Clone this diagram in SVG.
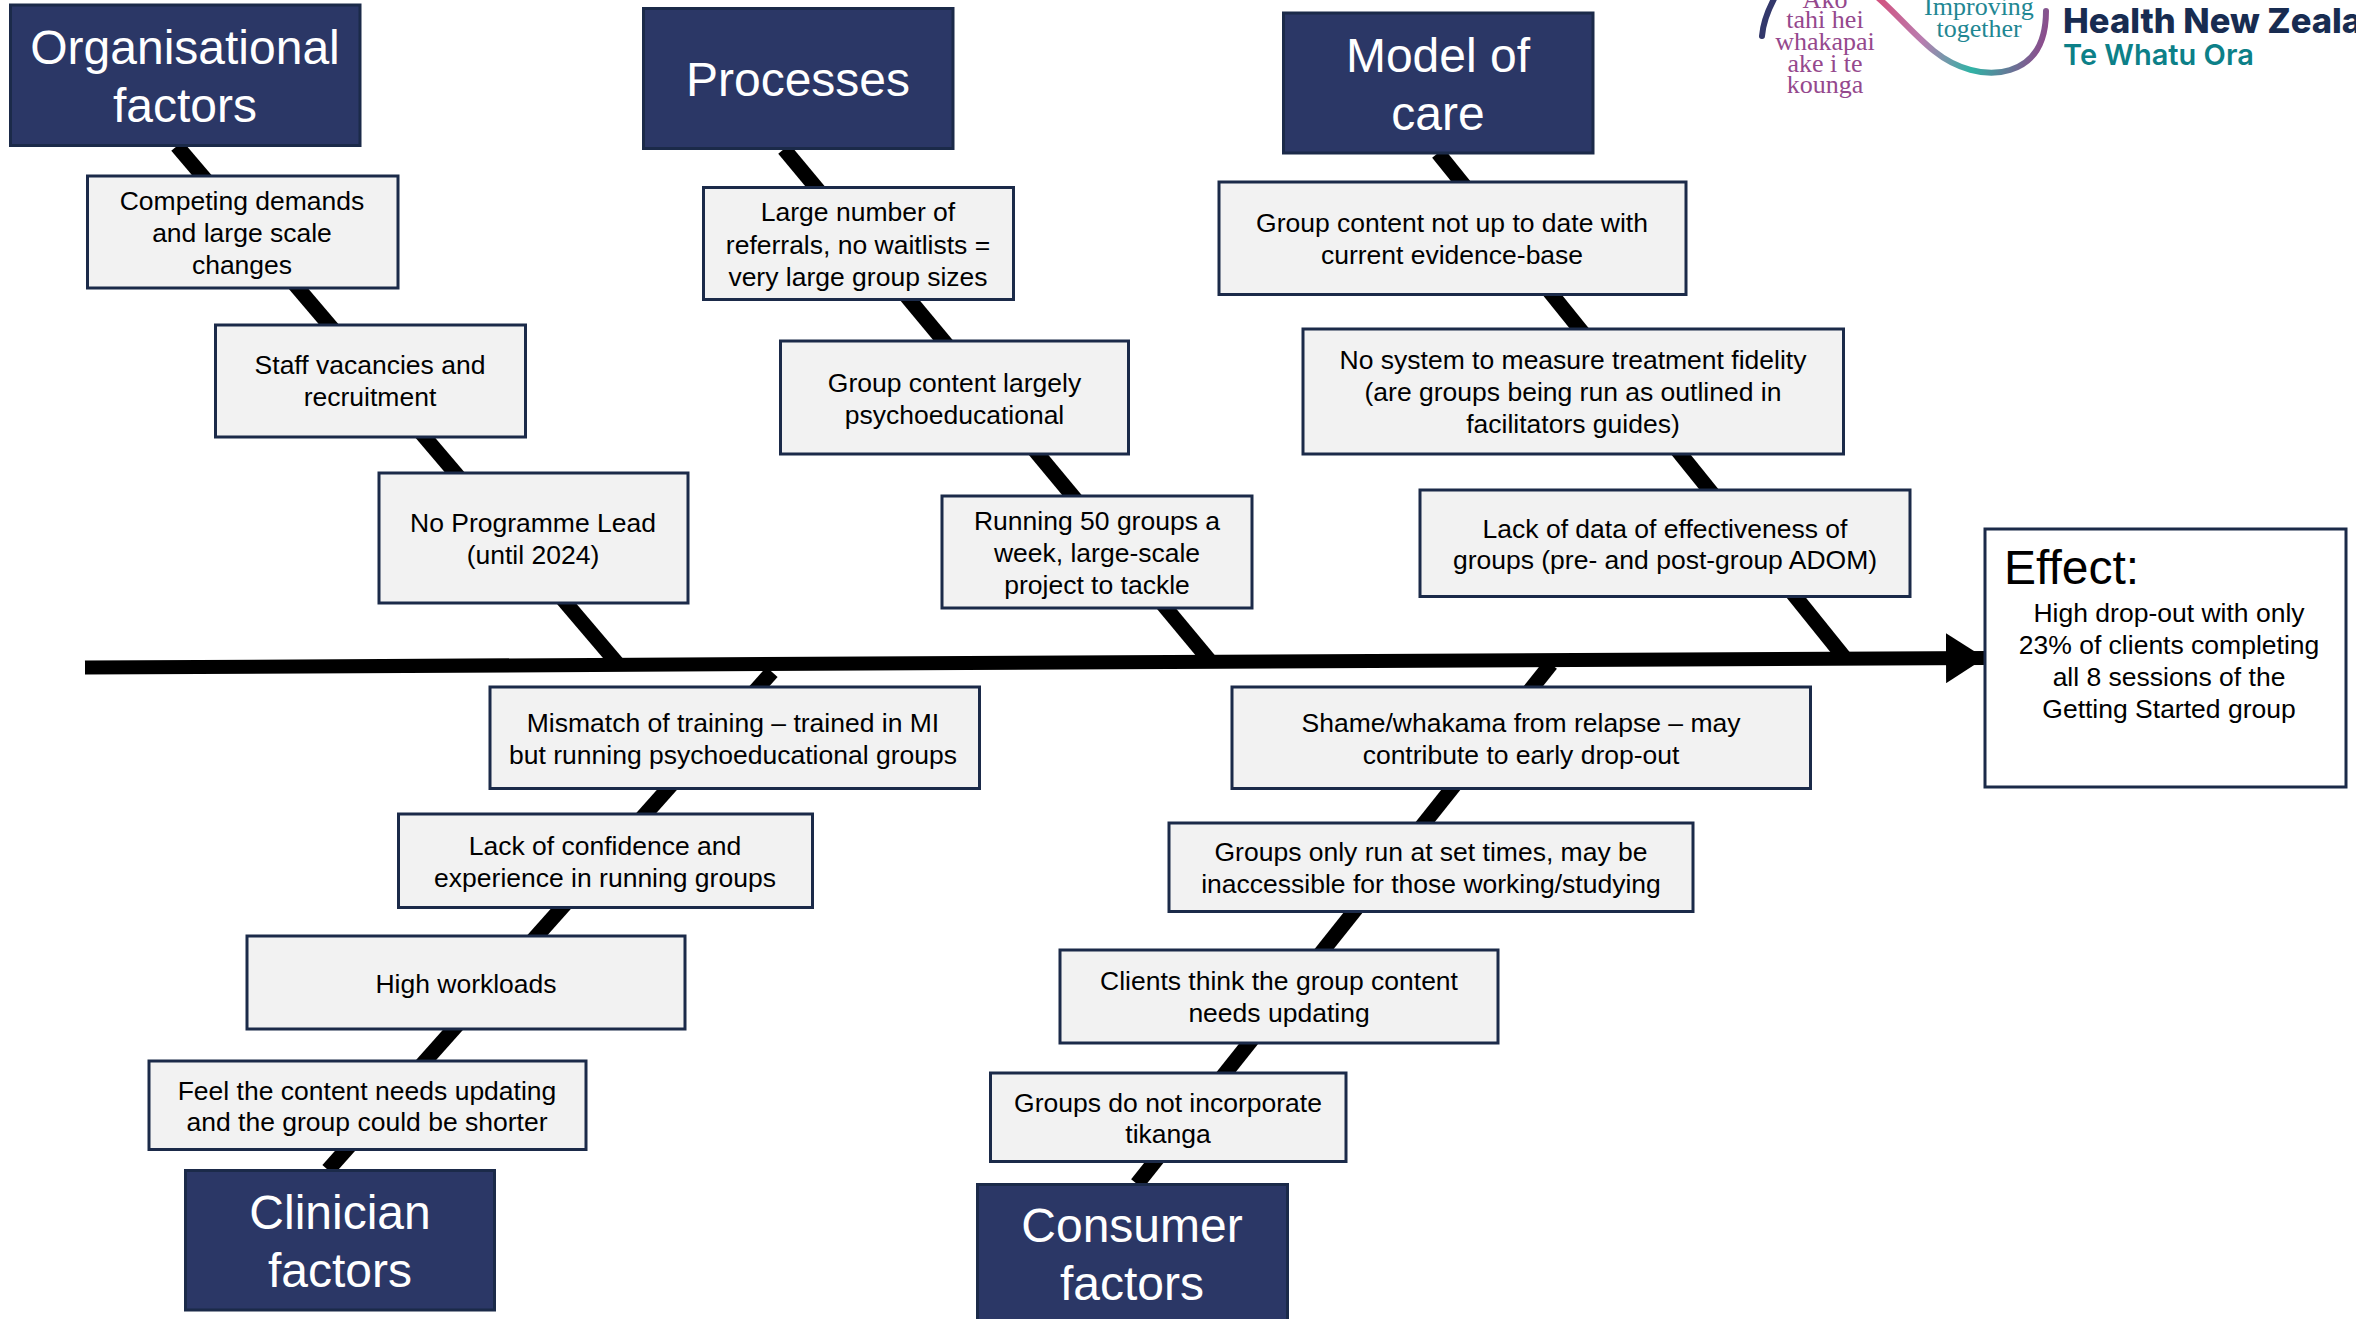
<svg xmlns="http://www.w3.org/2000/svg" width="2356" height="1319" viewBox="0 0 2356 1319">
<style>
text{font-family:"Liberation Sans",Arial,sans-serif;text-anchor:middle}
.b rect{fill:#f2f2f2;stroke:#1b2a49;stroke-width:3}
.b text{font-size:26.5px;fill:#000}
.h rect{fill:#2b3766;stroke:#1b2a49;stroke-width:3}
.h text{font-size:48px;fill:#fff}
.bone{stroke:#000;stroke-width:15;fill:none}
.lg{font-family:"Liberation Serif",serif;font-size:26px}
</style>
<defs>
<linearGradient id="wave" gradientUnits="userSpaceOnUse" x1="1878" y1="0" x2="2046" y2="40">
<stop offset="0" stop-color="#d2527f"/><stop offset=".3" stop-color="#b97db0"/><stop offset=".62" stop-color="#2fb3a5"/><stop offset="1" stop-color="#8f4a8c"/>
</linearGradient>
<marker id="arr" markerUnits="userSpaceOnUse" markerWidth="40" markerHeight="50" refX="39" refY="25" orient="auto"><path d="M0 0L39 25L0 50Z" fill="#000"/></marker>
</defs>
<rect width="2356" height="1319" fill="#fff"/>
<g id="connectors">
<path class="bone" d="M177 146L617 663"/>
<path class="bone" d="M784 149L1210 661"/>
<path class="bone" d="M1438 153L1844 657"/>
<path class="bone" d="M772 672L328 1170"/>
<path class="bone" d="M1551 664L1137 1184"/>
<path d="M85 667.5L1985 658" stroke="#000" stroke-width="14" fill="none" marker-end="url(#arr)"/>
</g>
<g id="organisational-factors" class="h"><rect x="10.5" y="5" width="349.500" height="140.500"/><text x="185" y="64">Organisational</text><text x="185" y="122">factors</text></g>
<g id="processes" class="h"><rect x="643.5" y="8.5" width="309.500" height="140"/><text x="798" y="96">Processes</text></g>
<g id="model-of-care" class="h"><rect x="1283.5" y="13" width="309.500" height="140"/><text x="1438" y="72">Model of</text><text x="1438" y="130">care</text></g>
<g id="clinician-factors" class="h"><rect x="185.5" y="1170.5" width="309" height="139.500"/><text x="340" y="1229">Clinician</text><text x="340" y="1287">factors</text></g>
<g id="consumer-factors" class="h"><rect x="977.5" y="1184.5" width="310" height="145"/><text x="1132" y="1242">Consumer</text><text x="1132" y="1300">factors</text></g>
<g id="competing" class="b"><rect x="87.5" y="176" width="310.500" height="112"/><text x="242" y="210">Competing demands</text><text x="242" y="242">and large scale</text><text x="242" y="274">changes</text></g>
<g id="staff" class="b"><rect x="215.5" y="325" width="310" height="112"/><text x="370" y="374">Staff vacancies and</text><text x="370" y="406">recruitment</text></g>
<g id="lead" class="b"><rect x="379" y="473" width="309" height="130"/><text x="533" y="532">No Programme Lead</text><text x="533" y="564">(until 2024)</text></g>
<g id="referrals" class="b"><rect x="703.5" y="187.5" width="310" height="112"/><text x="858" y="221">Large number of</text><text x="858" y="254">referrals, no waitlists =</text><text x="858" y="286">very large group sizes</text></g>
<g id="psychoed" class="b"><rect x="780.5" y="341" width="348" height="113"/><text x="954.5" y="392">Group content largely</text><text x="954.5" y="424">psychoeducational</text></g>
<g id="fifty" class="b"><rect x="942" y="496" width="310" height="112"/><text x="1097" y="530">Running 50 groups a</text><text x="1097" y="562">week, large-scale</text><text x="1097" y="594">project to tackle</text></g>
<g id="evidence" class="b"><rect x="1219" y="182" width="467" height="112.500"/><text x="1452" y="232">Group content not up to date with</text><text x="1452" y="264">current evidence-base</text></g>
<g id="fidelity" class="b"><rect x="1303" y="329" width="540.500" height="125"/><text x="1573" y="369">No system to measure treatment fidelity</text><text x="1573" y="401">(are groups being run as outlined in</text><text x="1573" y="433">facilitators guides)</text></g>
<g id="data" class="b"><rect x="1420" y="490" width="490" height="106.500"/><text x="1665" y="538">Lack of data of effectiveness of</text><text x="1665" y="569">groups (pre- and post-group ADOM)</text></g>
<g id="mismatch" class="b"><rect x="490" y="687" width="489.500" height="101.500"/><text x="733" y="732">Mismatch of training – trained in MI</text><text x="733" y="764">but running psychoeducational groups</text></g>
<g id="confidence" class="b"><rect x="398.500" y="814" width="414" height="93.500"/><text x="605" y="855">Lack of confidence and</text><text x="605" y="887">experience in running groups</text></g>
<g id="workloads" class="b"><rect x="247" y="936" width="438" height="93"/><text x="466" y="993">High workloads</text></g>
<g id="shorter" class="b"><rect x="149" y="1061" width="437" height="88.500"/><text x="367" y="1100">Feel the content needs updating</text><text x="367" y="1131">and the group could be shorter</text></g>
<g id="shame" class="b"><rect x="1232" y="687" width="578.500" height="101.500"/><text x="1521" y="732">Shame/whakama from relapse – may</text><text x="1521" y="764">contribute to early drop-out</text></g>
<g id="times" class="b"><rect x="1169" y="823" width="524" height="88.500"/><text x="1431" y="861">Groups only run at set times, may be</text><text x="1431" y="893">inaccessible for those working/studying</text></g>
<g id="updating" class="b"><rect x="1060" y="950" width="438" height="93"/><text x="1279" y="990">Clients think the group content</text><text x="1279" y="1022">needs updating</text></g>
<g id="tikanga" class="b"><rect x="990.500" y="1073" width="355.500" height="88.500"/><text x="1168" y="1112">Groups do not incorporate</text><text x="1168" y="1143">tikanga</text></g>
<g id="effect" class="b"><rect x="1985" y="529" width="361" height="258" style="fill:#fff"/><text x="2004" y="584" style="font-size:48px;text-anchor:start">Effect:</text><text x="2169" y="622">High drop-out with only</text><text x="2169" y="654">23% of clients completing</text><text x="2169" y="686">all 8 sessions of the</text><text x="2169" y="718">Getting Started group</text></g>
<g id="logo">
<path d="M1762 36C1763 24 1768 10 1775 -3" fill="none" stroke="#33386b" stroke-width="6" stroke-linecap="round"/>
<path d="M1876 -4C1895 12 1915 36 1934 51C1955 68 1985 78 2010 70C2036 62 2046 40 2046 11" fill="none" stroke="url(#wave)" stroke-width="6" stroke-linecap="round"/>
<g fill="#95488d"><text class="lg" x="1825" y="8">Ako</text><text class="lg" x="1825" y="28">tahi hei</text><text class="lg" x="1825" y="50">whakapai</text><text class="lg" x="1825" y="72">ake i te</text><text class="lg" x="1825" y="93">kounga</text></g>
<g fill="#1f8793"><text class="lg" x="1979" y="15">Improving</text><text class="lg" x="1979" y="37">together</text></g>
<text x="2063" y="33" style="font-family:Inter,sans-serif;font-weight:800;font-size:34.5px;text-anchor:start" fill="#182c51">Health New Zealand</text>
<text x="2063" y="65" style="font-family:Inter,sans-serif;font-weight:600;font-size:29px;text-anchor:start" fill="#0c8088">Te Whatu Ora</text>
</g>
</svg>
